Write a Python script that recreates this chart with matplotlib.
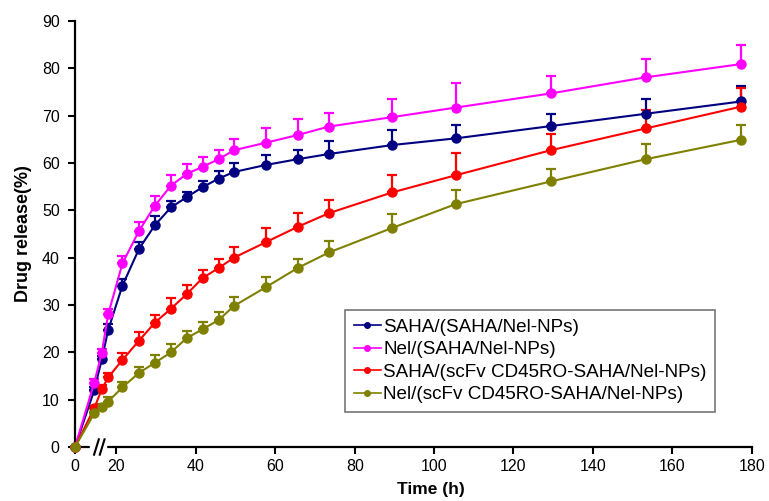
import numpy as np
import matplotlib
matplotlib.use("Agg")
import matplotlib.pyplot as plt
from matplotlib.lines import Line2D

plt.rcParams['font.family'] = ['Liberation Sans', 'DejaVu Sans']

# ---- data ----
time_h = [0, 14.4, 16.3, 17.9, 21.5, 25.7, 29.7, 33.7, 37.7, 41.7, 45.7, 49.6,
          57.7, 65.6, 73.5, 89.5, 105.4, 129.4, 153.3, 177.3]

saha_np = [0, 12.0, 18.5, 24.7, 34.1, 41.9, 46.9, 50.6, 52.8, 54.9, 56.7, 58.1,
           59.6, 60.8, 61.9, 63.8, 65.2, 67.8, 70.4, 73.0]
saha_np_err = [0, 0.6, 0.8, 1.3, 1.4, 1.4, 1.9, 1.4, 1.1, 1.3, 1.7, 1.8,
               2.1, 2.0, 2.8, 3.1, 2.8, 2.5, 3.1, 3.3]

nel_np = [0, 13.6, 19.9, 28.0, 38.8, 45.7, 51.0, 55.2, 57.7, 59.2, 60.8, 62.7,
          64.3, 65.9, 67.7, 69.7, 71.7, 74.7, 78.1, 80.9]
nel_np_err = [0, 0.7, 0.9, 1.2, 1.6, 1.9, 2.1, 2.2, 2.1, 2.0, 1.9, 2.3,
              3.0, 3.3, 2.8, 3.8, 5.1, 3.6, 3.9, 4.0]

saha_scfv = [0, 8.2, 12.2, 14.7, 18.4, 22.5, 26.3, 29.2, 32.3, 35.7, 37.8, 40.0,
             43.3, 46.5, 49.4, 53.8, 57.4, 62.7, 67.3, 71.9]
saha_scfv_err = [0, 0.5, 0.8, 1.0, 1.5, 1.7, 1.6, 2.2, 1.9, 1.8, 2.0, 2.2,
                 2.9, 3.0, 2.7, 3.7, 4.8, 3.5, 4.0, 3.9]

nel_scfv = [0, 7.1, 8.5, 9.6, 12.6, 15.7, 17.8, 20.0, 23.0, 24.9, 26.8, 29.8,
            33.8, 37.8, 41.1, 46.3, 51.3, 56.1, 60.8, 64.9]
nel_scfv_err = [0, 0.4, 0.6, 0.9, 1.2, 1.3, 1.6, 1.8, 1.5, 1.5, 1.8, 1.9,
                2.1, 2.0, 2.5, 2.9, 2.9, 2.6, 3.2, 3.1]

labels = ["SAHA/(SAHA/Nel-NPs)", "Nel/(SAHA/Nel-NPs)",
          "SAHA/(scFv CD45RO-SAHA/Nel-NPs)", "Nel/(scFv CD45RO-SAHA/Nel-NPs)"]
colors = ["#000080", "#FF00FF", "#FF0000", "#808000"]
x_ticks = [0, 20, 40, 60, 80, 100, 120, 140, 160, 180]
y_ticks = [0, 10, 20, 30, 40, 50, 60, 70, 80, 90]

# ---- broken x-axis scale (compress 0..14.4) ----
BRK = 14.4
LEFT = 9.55

def fwd(t):
    t = np.asarray(t, dtype=float)
    return np.where(t < BRK, LEFT + t * (BRK - LEFT) / BRK, t)

def inv(u):
    u = np.asarray(u, dtype=float)
    return np.where(u < BRK, (u - LEFT) * BRK / (BRK - LEFT), u)

fig = plt.figure(figsize=(7.69, 5.01), dpi=100)
ax = fig.add_axes([75/769, 1 - 447/501, (751.7-75)/769, 426/501])
ax.set_xscale('function', functions=(fwd, inv))

series = [(saha_np, saha_np_err), (nel_np, nel_np_err),
          (saha_scfv, saha_scfv_err), (nel_scfv, nel_scfv_err)]
for (vals, err), c, lab in zip(series, colors, labels):
    err = np.asarray(err)
    ax.errorbar(time_h, vals, yerr=[np.zeros_like(err), err], color=c,
                marker='o', markersize=6.5, lw=1.5, elinewidth=1.6,
                capsize=3.5, capthick=1.6, label=lab, zorder=3, clip_on=False)

ax.set_xlim(0, 180)
ax.set_ylim(0, 90)
ax.set_xticks(x_ticks)
ax.set_yticks(y_ticks)
ax.tick_params(axis='both', direction='out', length=5, width=1.5,
               labelsize=11.5, colors='black')
ax.tick_params(axis='y', pad=6)
for s in ['top', 'right']:
    ax.spines[s].set_visible(False)
for s in ['left', 'bottom']:
    ax.spines[s].set_linewidth(1.6)

ax.set_xlabel("Time (h)", fontsize=12.5, fontweight='bold', labelpad=2)
ax.xaxis.set_label_coords(0.526, -0.083)
ax.set_ylabel("Drug release(%)", fontsize=13, fontweight='bold')
ax.yaxis.set_label_coords(-0.064, 0.5)

# axis break marks
trans = ax.transAxes
gx0, gx1 = (90 - 75) / 676.7, (106 - 75) / 676.7
ax.add_patch(plt.Rectangle((gx0, -0.006), gx1 - gx0, 0.012, transform=trans,
                           color='white', clip_on=False, zorder=5))
for dx in (0.0, 0.0085):
    ax.add_line(Line2D([gx0 + 0.006 + dx, gx0 + 0.013 + dx], [-0.018, 0.018],
                       transform=trans, color='black', lw=1.5, clip_on=False,
                       zorder=6))

handles = [Line2D([], [], color=c, marker='o', markersize=4, lw=1.2)
           for c in colors]
leg = ax.legend(handles, labels, loc='lower left',
                bbox_to_anchor=(0.399, 0.083),
                fontsize=13.6, handlelength=1.45, handletextpad=0.12,
                borderaxespad=0, frameon=True, fancybox=False,
                borderpad=0.45, labelspacing=0.28)
leg.get_frame().set_edgecolor('#555555')
leg.get_frame().set_linewidth(1.2)

fig.savefig("out.png", dpi=100)
